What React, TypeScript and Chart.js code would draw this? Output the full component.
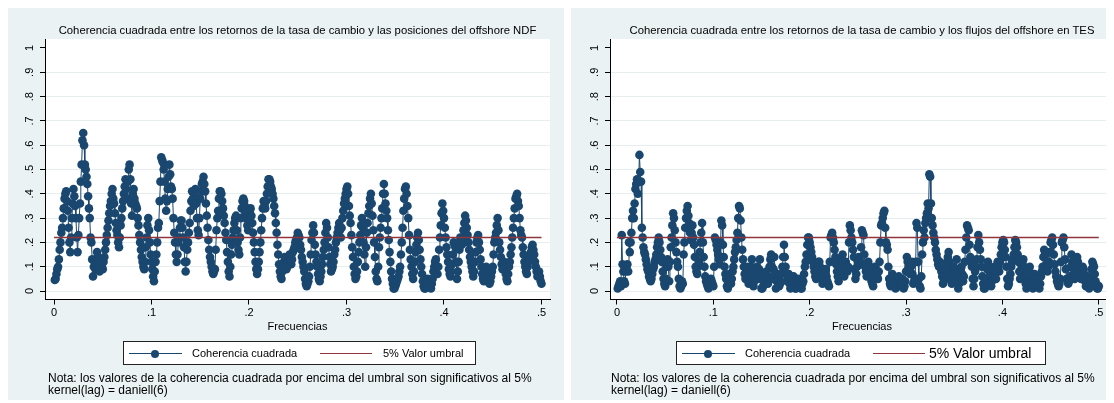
import React, { useEffect, useRef } from 'react';
import { Chart, registerables } from 'chart.js';

Chart.register(...registerables);

const NAVY = '#1a476f';
const MAROON = '#90353b';
const PANEL_BG = '#eaf2f3';
const GRID = '#e6eef0';
const FONT = '"Liberation Sans", Arial, Helvetica, sans-serif';

const xTickValues = [0, 0.1, 0.2, 0.3, 0.4, 0.5];
const yTickValues = [0, 0.1, 0.2, 0.3, 0.4, 0.5, 0.6, 0.7, 0.8, 0.9, 1];
const thresholdValue = 0.22;
const thresholdRange = [0, 0.5];

const titleNDF = 'Coherencia cuadrada entre los retornos de la tasa de cambio y las posiciones del offshore NDF';
const titleTES = 'Coherencia cuadrada entre los retornos de la tasa de cambio y los flujos del offshore en TES';
const xAxisTitle = 'Frecuencias';
const legendSeries = 'Coherencia cuadrada';
const legendThreshold = '5% Valor umbral';
const noteLines = [
  'Nota: los valores de la coherencia cuadrada por encima del umbral son significativos al 5%',
  'kernel(lag) = daniell(6)',
];

// squared coherence, NDF positions (12 values per 0.01 of frequency)
const coherenceNDF = [
  0.045, 0.05, 0.07, 0.09, 0.1, 0.13, 0.17, 0.2, 0.24, 0.26, 0.3, 0.34,
  0.38, 0.4, 0.41, 0.37, 0.33, 0.26, 0.2, 0.16, 0.22, 0.3, 0.36, 0.42,
  0.39, 0.35, 0.3, 0.22, 0.16, 0.23, 0.3, 0.36, 0.45, 0.52, 0.62, 0.65,
  0.6, 0.52, 0.5, 0.47, 0.44, 0.39, 0.34, 0.3, 0.22, 0.2, 0.13, 0.06,
  0.1, 0.12, 0.09, 0.13, 0.16, 0.14, 0.1, 0.08, 0.1, 0.12, 0.1, 0.09,
  0.12, 0.14, 0.17, 0.2, 0.23, 0.26, 0.29, 0.32, 0.35, 0.37, 0.4, 0.42,
  0.38, 0.36, 0.32, 0.28, 0.25, 0.23, 0.2, 0.18, 0.22, 0.27, 0.3, 0.34,
  0.37, 0.4, 0.43, 0.46, 0.42, 0.38, 0.45, 0.5, 0.52, 0.46, 0.36, 0.31,
  0.4, 0.42, 0.38, 0.36, 0.35, 0.34, 0.3, 0.27, 0.23, 0.2, 0.17, 0.14,
  0.12, 0.1, 0.09, 0.12, 0.18, 0.22, 0.27, 0.3, 0.25, 0.2, 0.15, 0.12,
  0.09, 0.06, 0.04, 0.08, 0.12, 0.15, 0.2, 0.26, 0.28, 0.37, 0.45, 0.55,
  0.54, 0.53, 0.5, 0.45, 0.38, 0.33, 0.37, 0.42, 0.47, 0.52, 0.48, 0.43,
  0.42, 0.38, 0.3, 0.24, 0.2, 0.15, 0.12, 0.15, 0.2, 0.22, 0.26, 0.29,
  0.29, 0.26, 0.22, 0.18, 0.12, 0.08, 0.12, 0.17, 0.2, 0.24, 0.28, 0.33,
  0.37, 0.41, 0.38, 0.35, 0.39, 0.42, 0.36, 0.3, 0.25, 0.23, 0.3, 0.38,
  0.41, 0.44, 0.45, 0.47, 0.44, 0.41, 0.36, 0.31, 0.26, 0.21, 0.17, 0.14,
  0.12, 0.1, 0.08, 0.07, 0.08, 0.09, 0.17, 0.25, 0.3, 0.33, 0.38, 0.41,
  0.41, 0.4, 0.37, 0.34, 0.31, 0.28, 0.24, 0.21, 0.16, 0.12, 0.08, 0.06,
  0.1, 0.15, 0.19, 0.22, 0.25, 0.28, 0.3, 0.31, 0.25, 0.2, 0.17, 0.15,
  0.22, 0.3, 0.34, 0.37, 0.38, 0.37, 0.35, 0.32, 0.3, 0.27, 0.25, 0.29,
  0.33, 0.34, 0.31, 0.28, 0.24, 0.2, 0.16, 0.12, 0.09, 0.07, 0.09, 0.12,
  0.16, 0.2, 0.25, 0.3, 0.34, 0.37, 0.35, 0.34, 0.37, 0.4, 0.43, 0.46,
  0.46, 0.45, 0.43, 0.42, 0.4, 0.38, 0.35, 0.32, 0.28, 0.24, 0.19, 0.15,
  0.11, 0.08, 0.06, 0.05, 0.08, 0.1, 0.12, 0.14, 0.11, 0.09, 0.1, 0.12,
  0.14, 0.15, 0.13, 0.11, 0.13, 0.16, 0.17, 0.18, 0.2, 0.21, 0.22, 0.24,
  0.23, 0.22, 0.19, 0.17, 0.14, 0.12, 0.1, 0.08, 0.05, 0.03, 0.02, 0.03,
  0.04, 0.06, 0.1, 0.15, 0.21, 0.24, 0.27, 0.24, 0.19, 0.15, 0.12, 0.1,
  0.07, 0.05, 0.04, 0.06, 0.08, 0.11, 0.14, 0.17, 0.2, 0.24, 0.28, 0.26,
  0.22, 0.18, 0.14, 0.11, 0.08, 0.09, 0.1, 0.12, 0.15, 0.17, 0.2, 0.22,
  0.24, 0.26, 0.28, 0.25, 0.22, 0.26, 0.3, 0.33, 0.36, 0.38, 0.4, 0.42,
  0.43, 0.4, 0.35, 0.31, 0.28, 0.23, 0.18, 0.14, 0.1, 0.07, 0.05, 0.06,
  0.08, 0.12, 0.16, 0.2, 0.23, 0.27, 0.3, 0.26, 0.2, 0.15, 0.1, 0.18,
  0.24, 0.28, 0.32, 0.35, 0.38, 0.4, 0.36, 0.31, 0.25, 0.2, 0.14, 0.08,
  0.05, 0.04, 0.1, 0.18, 0.22, 0.26, 0.3, 0.34, 0.4, 0.44, 0.4, 0.36,
  0.33, 0.3, 0.25, 0.21, 0.16, 0.12, 0.08, 0.05, 0.03, 0.01, 0.01, 0.02,
  0.03, 0.04, 0.05, 0.06, 0.08, 0.1, 0.15, 0.2, 0.26, 0.33, 0.38, 0.42,
  0.43, 0.4, 0.35, 0.3, 0.23, 0.17, 0.13, 0.1, 0.07, 0.05, 0.08, 0.12,
  0.16, 0.19, 0.22, 0.24, 0.21, 0.17, 0.13, 0.1, 0.07, 0.04, 0.02, 0.01,
  0.01, 0.02, 0.04, 0.05, 0.04, 0.03, 0.02, 0.01, 0.03, 0.05, 0.08, 0.1,
  0.12, 0.13, 0.1, 0.07, 0.1, 0.17, 0.22, 0.27, 0.32, 0.36, 0.33, 0.3,
  0.26, 0.22, 0.18, 0.15, 0.12, 0.09, 0.07, 0.06, 0.08, 0.11, 0.15, 0.2,
  0.19, 0.18, 0.12, 0.05, 0.08, 0.12, 0.17, 0.22, 0.2, 0.19, 0.22, 0.25,
  0.28, 0.31, 0.29, 0.26, 0.23, 0.2, 0.17, 0.14, 0.12, 0.1, 0.08, 0.06,
  0.08, 0.12, 0.16, 0.2, 0.22, 0.23, 0.2, 0.17, 0.13, 0.1, 0.07, 0.05,
  0.04, 0.05, 0.08, 0.1, 0.09, 0.07, 0.05, 0.03, 0.04, 0.06, 0.08, 0.1,
  0.15, 0.2, 0.22, 0.24, 0.27, 0.3, 0.25, 0.2, 0.17, 0.14, 0.11, 0.09,
  0.1, 0.12, 0.1, 0.07, 0.05, 0.04, 0.07, 0.1, 0.12, 0.15, 0.18, 0.22,
  0.26, 0.3, 0.34, 0.38, 0.39, 0.4, 0.37, 0.35, 0.3, 0.25, 0.23, 0.22,
  0.18, 0.15, 0.12, 0.1, 0.08, 0.07, 0.1, 0.12, 0.13, 0.14, 0.16, 0.18,
  0.19, 0.17, 0.15, 0.12, 0.1, 0.08, 0.06, 0.07, 0.08, 0.06, 0.04, 0.03,
];

// squared coherence, TES flows (12 values per 0.01 of frequency)
const coherenceTES = [
  0.01, 0.02, 0.03, 0.04, 0.02, 0.23, 0.11, 0.08, 0.04, 0.03, 0.08, 0.1,
  0.11, 0.08, 0.2, 0.16, 0.2, 0.24, 0.3, 0.33, 0.3, 0.36, 0.42, 0.44,
  0.46, 0.4, 0.45, 0.56, 0.49, 0.45, 0.26, 0.22, 0.18, 0.16, 0.15, 0.13,
  0.11, 0.09, 0.08, 0.06, 0.05, 0.04, 0.05, 0.07, 0.09, 0.1, 0.12, 0.13,
  0.15, 0.18, 0.2, 0.22, 0.2, 0.17, 0.14, 0.12, 0.08, 0.05, 0.03, 0.02,
  0.05, 0.1, 0.13, 0.1, 0.04, 0.12, 0.18, 0.22, 0.27, 0.32, 0.3, 0.25,
  0.2, 0.16, 0.12, 0.1, 0.05, 0.02, 0.01, 0.02, 0.04, 0.03, 0.15, 0.2,
  0.26, 0.3, 0.33, 0.35, 0.31, 0.28, 0.24, 0.21, 0.24, 0.27, 0.22, 0.19,
  0.14, 0.1, 0.08, 0.07, 0.1, 0.12, 0.16, 0.2, 0.24, 0.28, 0.2, 0.14,
  0.1, 0.06, 0.04, 0.03, 0.02, 0.01, 0.02, 0.04, 0.05, 0.04, 0.03, 0.02,
  0.1, 0.22, 0.21, 0.19, 0.17, 0.15, 0.13, 0.11, 0.2, 0.29, 0.27, 0.19,
  0.14, 0.1, 0.07, 0.05, 0.02, 0.01, 0.04, 0.07, 0.05, 0.03, 0.05, 0.08,
  0.1, 0.13, 0.16, 0.18, 0.21, 0.24, 0.3, 0.35, 0.34, 0.29, 0.22, 0.17,
  0.13, 0.1, 0.07, 0.05, 0.08, 0.1, 0.06, 0.03, 0.05, 0.07, 0.1, 0.13,
  0.06, 0.02, 0.04, 0.06, 0.08, 0.1, 0.07, 0.05, 0.09, 0.13, 0.06, 0.01,
  0.01, 0.02, 0.04, 0.05, 0.07, 0.08, 0.05, 0.03, 0.06, 0.1, 0.13, 0.15,
  0.1, 0.05, 0.09, 0.14, 0.07, 0.01, 0.04, 0.07, 0.04, 0.02, 0.03, 0.04,
  0.07, 0.1, 0.14, 0.19, 0.14, 0.1, 0.07, 0.04, 0.06, 0.07, 0.03, 0.01,
  0.02, 0.03, 0.05, 0.06, 0.03, 0.01, 0.01, 0.02, 0.04, 0.05, 0.03, 0.02,
  0.01, 0.01, 0.03, 0.04, 0.07, 0.1, 0.12, 0.15, 0.19, 0.22, 0.22, 0.2,
  0.18, 0.16, 0.14, 0.12, 0.1, 0.08, 0.06, 0.05, 0.08, 0.11, 0.12, 0.12,
  0.1, 0.07, 0.05, 0.03, 0.04, 0.06, 0.08, 0.09, 0.06, 0.04, 0.03, 0.02,
  0.12, 0.22, 0.23, 0.24, 0.22, 0.2, 0.17, 0.14, 0.11, 0.08, 0.06, 0.04,
  0.07, 0.1, 0.12, 0.13, 0.15, 0.12, 0.06, 0.09, 0.12, 0.1, 0.08, 0.1,
  0.2, 0.27, 0.25, 0.22, 0.2, 0.17, 0.14, 0.09, 0.05, 0.07, 0.1, 0.12,
  0.14, 0.13, 0.12, 0.18, 0.25, 0.24, 0.23, 0.15, 0.1, 0.08, 0.06, 0.09,
  0.12, 0.1, 0.08, 0.06, 0.04, 0.03, 0.02, 0.05, 0.1, 0.09, 0.08, 0.06,
  0.05, 0.08, 0.12, 0.2, 0.27, 0.28, 0.3, 0.32, 0.33, 0.26, 0.2, 0.19,
  0.17, 0.1, 0.05, 0.03, 0.02, 0.05, 0.07, 0.06, 0.05, 0.03, 0.01, 0.02,
  0.03, 0.05, 0.06, 0.04, 0.02, 0.03, 0.05, 0.03, 0.01, 0.02, 0.04, 0.08,
  0.14, 0.12, 0.1, 0.08, 0.07, 0.1, 0.12, 0.07, 0.03, 0.04, 0.05, 0.12,
  0.28, 0.26, 0.12, 0.05, 0.02, 0.01, 0.06, 0.15, 0.2, 0.25, 0.22, 0.28,
  0.3, 0.32, 0.36, 0.34, 0.48, 0.47, 0.36, 0.3, 0.27, 0.24, 0.22, 0.2,
  0.17, 0.15, 0.13, 0.11, 0.1, 0.12, 0.1, 0.08, 0.06, 0.03, 0.04, 0.05,
  0.06, 0.09, 0.12, 0.14, 0.16, 0.12, 0.08, 0.05, 0.03, 0.06, 0.1, 0.08,
  0.05, 0.09, 0.13, 0.08, 0.01, 0.03, 0.06, 0.08, 0.1, 0.07, 0.04, 0.06,
  0.12, 0.17, 0.22, 0.27, 0.26, 0.25, 0.19, 0.14, 0.12, 0.1, 0.05, 0.02,
  0.05, 0.08, 0.1, 0.13, 0.18, 0.23, 0.2, 0.17, 0.13, 0.1, 0.06, 0.03,
  0.01, 0.01, 0.03, 0.05, 0.09, 0.12, 0.1, 0.08, 0.04, 0.02, 0.04, 0.06,
  0.08, 0.1, 0.07, 0.05, 0.08, 0.12, 0.1, 0.08, 0.12, 0.15, 0.18, 0.2,
  0.21, 0.2, 0.17, 0.14, 0.1, 0.05, 0.02, 0.03, 0.05, 0.07, 0.1, 0.12,
  0.13, 0.15, 0.18, 0.21, 0.2, 0.18, 0.15, 0.12, 0.08, 0.05, 0.08, 0.1,
  0.12, 0.13, 0.1, 0.06, 0.03, 0.01, 0.04, 0.07, 0.09, 0.1, 0.07, 0.04,
  0.02, 0.01, 0.04, 0.07, 0.05, 0.02, 0.04, 0.05, 0.03, 0.01, 0.03, 0.06,
  0.08, 0.1, 0.14, 0.17, 0.16, 0.15, 0.11, 0.08, 0.1, 0.12, 0.16, 0.2,
  0.21, 0.22, 0.19, 0.15, 0.11, 0.08, 0.06, 0.04, 0.03, 0.02, 0.03, 0.05,
  0.12, 0.2, 0.21, 0.22, 0.18, 0.13, 0.09, 0.05, 0.04, 0.03, 0.04, 0.06,
  0.1, 0.15, 0.12, 0.1, 0.07, 0.05, 0.09, 0.13, 0.14, 0.12, 0.1, 0.08,
  0.06, 0.05, 0.08, 0.1, 0.09, 0.07, 0.04, 0.02, 0.04, 0.06, 0.03, 0.01,
  0.03, 0.05, 0.09, 0.12, 0.11, 0.1, 0.07, 0.04, 0.02, 0.01, 0.01, 0.02,
];

const fmtTick = (v: number) => {
  if (Math.abs(v) < 1e-9) return '0';
  if (Math.abs(v - 1) < 1e-9) return '1';
  return v.toFixed(1).replace(/^0/, '');
};

const whitePlotRegion = {
  id: 'whitePlotRegion',
  beforeDraw(chart: any) {
    const { ctx, chartArea } = chart;
    ctx.save();
    ctx.fillStyle = '#ffffff';
    ctx.fillRect(chartArea.left, chartArea.top, chartArea.right - chartArea.left, chartArea.bottom - chartArea.top);
    ctx.restore();
  },
};

const rotatedYLabels = {
  id: 'rotatedYLabels',
  afterDraw(chart: any) {
    const s = chart.scales.y;
    const ctx = chart.ctx;
    ctx.save();
    ctx.font = `11px ${FONT}`;
    ctx.fillStyle = '#000';
    ctx.textAlign = 'center';
    ctx.textBaseline = 'middle';
    s.ticks.forEach((t: any) => {
      const y = s.getPixelForValue(t.value);
      ctx.save();
      ctx.translate(chart.chartArea.left - 15, y);
      ctx.rotate(-Math.PI / 2);
      ctx.fillText(fmtTick(t.value), 0, 0);
      ctx.restore();
    });
    ctx.restore();
  },
};

type PanelProps = {
  left: number;
  width: number;
  axisX: number;
  plotRight: number;
  x0: number;
  x5: number;
  title: string;
  values: number[];
  legendLeft: number;
  legendWidth: number;
  bigThresholdLabel: boolean;
};

const CANVAS_H = 330;
const PANEL_H = 392;
const PLOT_TOP = 31;
const PLOT_BOTTOM = 291.5;
const Y1 = 40;
const Y0 = 283;

function Panel(p: PanelProps) {
  const ref = useRef<HTMLCanvasElement | null>(null);
  useEffect(() => {
    if (!ref.current) return;
    const pxPerX = (p.x5 - p.x0) / 0.5;
    const xMin = -(p.x0 - p.axisX) / pxPerX;
    const xMax = 0.5 + (p.plotRight - p.x5) / pxPerX;
    const pxPerY = Y0 - Y1;
    const yMax = 1 + (Y1 - PLOT_TOP) / pxPerY;
    const yMin = -(PLOT_BOTTOM - Y0) / pxPerY;
    const n = p.values.length;
    const pts = p.values.map((v, i) => ({ x: ((i + 1) * 0.5) / n, y: v }));
    const chart = new Chart(ref.current, {
      type: 'line',
      data: {
        datasets: [
          {
            label: legendThreshold,
            data: thresholdRange.map((x) => ({ x, y: thresholdValue })),
            borderColor: MAROON,
            borderWidth: 1.5,
            pointRadius: 0,
            order: 0,
          },
          {
            label: legendSeries,
            data: pts,
            borderColor: NAVY,
            borderWidth: 1,
            pointRadius: 4.3,
            pointBackgroundColor: NAVY,
            pointBorderWidth: 0,
            order: 1,
          },
        ],
      },
      options: {
        responsive: false,
        animation: false,
        devicePixelRatio: 1,
        layout: { padding: { top: PLOT_TOP, right: p.width - p.plotRight, left: 0, bottom: 0 } },
        plugins: { legend: { display: false }, tooltip: { enabled: false }, title: { display: false } },
        scales: {
          x: {
            type: 'linear',
            min: xMin,
            max: xMax,
            afterBuildTicks: (s: any) => {
              s.ticks = xTickValues.map((v) => ({ value: v }));
            },
            afterFit: (s: any) => {
              s.height = CANVAS_H - PLOT_BOTTOM;
            },
            ticks: {
              callback: (v: any) => fmtTick(Number(v)),
              font: { family: FONT, size: 11 },
              color: '#000',
              padding: 2,
              maxRotation: 0,
              autoSkip: false,
            },
            grid: { drawOnChartArea: false, drawTicks: true, tickLength: 5, tickColor: '#000' },
            border: { display: true, color: '#000', width: 1 },
          },
          y: {
            type: 'linear',
            min: yMin,
            max: yMax,
            afterBuildTicks: (s: any) => {
              s.ticks = yTickValues.map((v) => ({ value: v }));
            },
            afterFit: (s: any) => {
              s.width = p.axisX;
            },
            ticks: { display: false },
            grid: {
              color: (c: any) => (c.tick && c.tick.value === 1 ? 'rgba(0,0,0,0)' : GRID),
              lineWidth: 1,
              drawTicks: true,
              tickLength: 5,
              tickColor: '#000',
            },
            border: { display: true, color: '#000', width: 1 },
          },
        },
      },
      plugins: [whitePlotRegion, rotatedYLabels],
    });
    return () => chart.destroy();
  }, []);

  const plotCenter = (p.axisX + p.plotRight) / 2;
  const text11: React.CSSProperties = { fontFamily: FONT, fontSize: 11, color: '#000', whiteSpace: 'nowrap', lineHeight: '13px' };

  return (
    <div style={{ position: 'absolute', left: p.left, top: 0, width: p.width, height: PANEL_H, background: PANEL_BG, overflow: 'hidden' }}>
      <canvas ref={ref} width={p.width} height={CANVAS_H} style={{ position: 'absolute', left: 0, top: 0, width: p.width, height: CANVAS_H }} />
      <div style={{ ...text11, fontSize: 11.3, position: 'absolute', top: 16, left: plotCenter - 300, width: 600, textAlign: 'center' }}>{p.title}</div>
      <div style={{ ...text11, position: 'absolute', top: 312, left: plotCenter - 100, width: 200, textAlign: 'center' }}>{xAxisTitle}</div>
      <div style={{ position: 'absolute', top: 333, left: p.legendLeft, width: p.legendWidth, height: 24, background: '#fff', border: '1px solid #222', boxSizing: 'border-box' }}>
        <div style={{ position: 'absolute', left: 5, top: 11, width: 53, height: 1, background: NAVY }} />
        <div style={{ position: 'absolute', left: 27, top: 7.5, width: 8, height: 8, borderRadius: 4, background: NAVY }} />
        <div style={{ ...text11, position: 'absolute', left: 68, top: 5 }}>{legendSeries}</div>
        <div style={{ position: 'absolute', left: 196, top: 11, width: 52, height: 1, background: MAROON }} />
        <div style={{ ...text11, position: 'absolute', left: p.bigThresholdLabel ? 252 : 259, top: p.bigThresholdLabel ? 3 : 5, fontSize: p.bigThresholdLabel ? 14 : 11, lineHeight: p.bigThresholdLabel ? '17px' : '13px' }}>{legendThreshold}</div>
      </div>
      <div style={{ ...text11, fontSize: 12, position: 'absolute', top: 364, left: 40, lineHeight: '12px' }}>
        {noteLines.map((l) => (
          <div key={l}>{l}</div>
        ))}
      </div>
    </div>
  );
}

export default function App() {
  return (
    <div style={{ position: 'relative', width: 1106, height: 392 }}>
      <Panel left={0} width={556} axisX={37} plotRight={542} x0={46} x5={533.5} title={titleNDF} values={coherenceNDF} legendLeft={115} legendWidth={353} bigThresholdLabel={false} />
      <Panel left={563} width={543} axisX={39} plotRight={543} x0={46} x5={532} title={titleTES} values={coherenceTES} legendLeft={105} legendWidth={370} bigThresholdLabel={true} />
    </div>
  );
}
